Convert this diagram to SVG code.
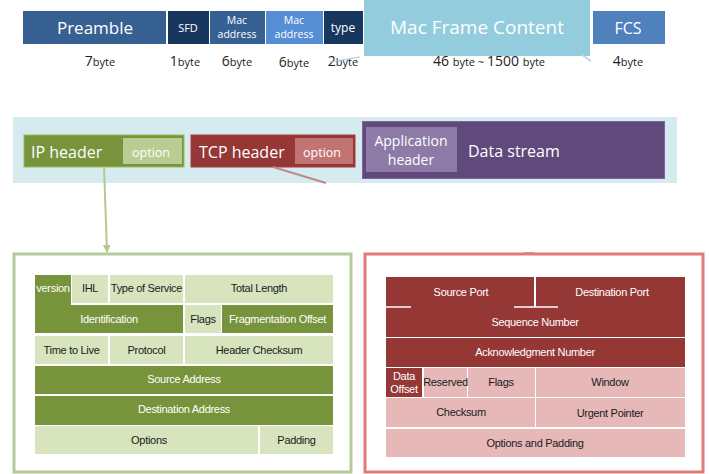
<svg xmlns="http://www.w3.org/2000/svg" width="709" height="474" viewBox="0 0 709 474">
<style>
.ko{font-family:"Open Sans","Noto Sans",sans-serif;fill:#fff}
.by{font-family:"Open Sans","Noto Sans",sans-serif;fill:#222;text-anchor:middle}
.big{font-size:14px}
.sm{font-size:11px}
.t{font-family:"Liberation Sans",Arial,sans-serif;font-size:11px;text-anchor:middle;letter-spacing:-0.3px}
.w{fill:#fff}
.d{fill:#1a1a1a}
.gD{fill:#77933C}
.gL{fill:#D7E4BD}
.rD{fill:#953735}
.rL{fill:#E6B9B8}
</style>
<defs>
<marker id="ah" markerWidth="8" markerHeight="8" refX="7" refY="4" orient="auto" markerUnits="userSpaceOnUse">
<path d="M0,0 L8,4 L0,8 Z" fill="#B3C98E"/>
</marker>
</defs>

<!-- top frame bar -->
<g id="preamble"><rect x="23" y="11" width="143" height="33" fill="#376092"/><text class="ko" x="95" y="34" font-size="17" text-anchor="middle">Preamble</text></g>
<g id="sfd"><rect x="168" y="11" width="41" height="33" fill="#17375E"/><text class="ko" x="188" y="32" font-size="11" text-anchor="middle">SFD</text></g>
<g id="mac1"><rect x="210" y="11" width="55" height="33" fill="#376092"/><text class="ko" x="237" y="24" font-size="10.5" text-anchor="middle">Mac</text><text class="ko" x="237" y="38" font-size="10.5" text-anchor="middle">address</text></g>
<g id="mac2"><rect x="266" y="11" width="57" height="33" fill="#558ED5"/><text class="ko" x="294" y="24" font-size="10.5" text-anchor="middle">Mac</text><text class="ko" x="294" y="38" font-size="10.5" text-anchor="middle">address</text></g>
<g id="type"><rect x="324" y="11" width="39" height="33" fill="#17375E"/><text class="ko" x="343" y="32" font-size="12" text-anchor="middle">type</text></g>
<g id="content"><rect x="364" y="0" width="226" height="56" fill="#93CDDD"/><text class="ko" x="477" y="34" font-size="19" text-anchor="middle">Mac Frame Content</text></g>
<g id="fcs"><rect x="593" y="11" width="72" height="33" fill="#4F81BD"/><text class="ko" x="628" y="34" font-size="16" text-anchor="middle">FCS</text></g>

<g id="bytes">
<text class="by" x="100" y="66"><tspan class="big">7</tspan><tspan class="sm">byte</tspan></text>
<text class="by" x="185" y="66"><tspan class="big">1</tspan><tspan class="sm">byte</tspan></text>
<text class="by" x="237" y="66"><tspan class="big">6</tspan><tspan class="sm">byte</tspan></text>
<text class="by" x="294" y="67"><tspan class="big">6</tspan><tspan class="sm">byte</tspan></text>
<text class="by" x="343" y="66"><tspan class="big">2</tspan><tspan class="sm">byte</tspan></text>
<text class="by" x="489" y="66"><tspan class="big">46 </tspan><tspan class="sm">byte ~ </tspan><tspan class="big">1500 </tspan><tspan class="sm">byte</tspan></text>
<text class="by" x="628" y="66"><tspan class="big">4</tspan><tspan class="sm">byte</tspan></text>
</g>

<!-- middle band -->
<rect x="13" y="117" width="664" height="66" fill="#D5EBF0"/>
<g id="ipheader"><rect x="24" y="135" width="160" height="32" fill="#77933C" stroke="#9BBB59" stroke-width="1"/><rect x="123" y="138" width="59" height="26" fill="#B9CC92"/><text class="ko" x="31" y="158" font-size="16">IP header</text><text class="ko" x="151" y="157" font-size="12.5" text-anchor="middle">option</text></g>
<g id="tcpheader"><rect x="191" y="135" width="164" height="32" fill="#953735" stroke="#A83C3A" stroke-width="1"/><rect x="295" y="138" width="58" height="26" fill="#C27472"/><text class="ko" x="199" y="158" font-size="16">TCP header</text><text class="ko" x="322" y="157" font-size="12.5" text-anchor="middle">option</text></g>
<g id="appdata"><rect x="362.5" y="121.5" width="302" height="57" fill="#604A7B" stroke="#8064A2" stroke-width="1"/><rect x="366" y="127" width="91" height="45" fill="#8D7AA7"/><text class="ko" x="411" y="146" font-size="14" text-anchor="middle">Application</text><text class="ko" x="411" y="165" font-size="14" text-anchor="middle">header</text><text class="ko" x="468" y="157" font-size="16">Data stream</text></g>

<!-- connectors -->
<g id="connectors" fill="none">
<line x1="330" y1="62" x2="360" y2="57" stroke="#A9CBE6" stroke-width="1.2"/>
<line x1="582" y1="55" x2="591" y2="61" stroke="#BFD3EA" stroke-width="2"/>
<line x1="104" y1="167" x2="107" y2="252" stroke="#B3C98E" stroke-width="2" marker-end="url(#ah)"/>
<line x1="273" y1="167" x2="326" y2="183" stroke="#C0898A" stroke-width="2"/>
<line x1="524" y1="253.5" x2="534" y2="253.5" stroke="#B85A5A" stroke-width="2"/>
</g>

<!-- IP header table -->
<g id="ipbox">
<rect x="14" y="254" width="337" height="218" fill="#fff" stroke="#B6C99A" stroke-width="3"/>
<rect class="gD" x="35" y="275" width="36" height="30"/><text class="t w" x="53" y="292" font-size="10">version</text>
<rect class="gL" x="72" y="275" width="36" height="28"/><text class="t d" x="90" y="292">IHL</text>
<rect class="gL" x="110" y="275" width="73" height="28"/><text class="t d" x="146.5" y="292" font-size="10">Type of Service</text>
<rect class="gL" x="185" y="275" width="148" height="28"/><text class="t d" x="259" y="292">Total Length</text>
<rect class="gD" x="35" y="305" width="148" height="28"/><text class="t w" x="109" y="323">Identification</text>
<rect class="gL" x="185" y="305" width="36" height="28"/><text class="t d" x="203" y="323">Flags</text>
<rect class="gD" x="222" y="305" width="111" height="28"/><text class="t w" x="277.5" y="323">Fragmentation Offset</text>
<rect class="gL" x="35" y="336" width="73" height="28"/><text class="t d" x="71.5" y="354">Time to Live</text>
<rect class="gL" x="110" y="336" width="73" height="28"/><text class="t d" x="146.5" y="354">Protocol</text>
<rect class="gL" x="185" y="336" width="148" height="28"/><text class="t d" x="259" y="354">Header Checksum</text>
<rect class="gD" x="35" y="366" width="298" height="28"/><text class="t w" x="184" y="383">Source Address</text>
<rect class="gD" x="35" y="396" width="298" height="29"/><text class="t w" x="184" y="413">Destination Address</text>
<rect class="gL" x="35" y="426" width="223" height="28"/><text class="t d" x="149" y="444">Options</text>
<rect class="gL" x="260" y="426" width="73" height="28"/><text class="t d" x="296.5" y="444">Padding</text>
</g>

<!-- TCP header table -->
<g id="tcpbox">
<rect x="365" y="254" width="338" height="218" fill="#fff" stroke="#E07B7B" stroke-width="3"/>
<rect class="rD" x="386" y="277" width="148" height="31"/><text class="t w" x="461" y="296">Source Port</text>
<rect class="rD" x="536" y="277" width="149" height="31"/><text class="t w" x="612" y="296">Destination Port</text>
<rect class="rD" x="386" y="307" width="299" height="30"/><text class="t w" x="535" y="326">Sequence Number</text>
<line x1="386" y1="307" x2="411" y2="307" stroke="#fff" stroke-width="1.5"/>
<line x1="514" y1="307" x2="558" y2="307" stroke="#fff" stroke-width="1.5"/>
<rect class="rD" x="386" y="338" width="299" height="29"/><text class="t w" x="535" y="356">Acknowledgment Number</text>
<rect class="rD" x="386" y="368" width="36" height="29"/><text class="t w" x="404" y="380" font-size="10">Data</text><text class="t w" x="404" y="393" font-size="10">Offset</text>
<rect class="rL" x="424" y="368" width="43" height="29"/><text class="t d" x="445.5" y="386" font-size="10.5">Reserved</text>
<rect class="rL" x="468" y="368" width="67" height="29"/><text class="t d" x="501" y="386" font-size="10">Flags</text>
<rect class="rL" x="536" y="368" width="149" height="29"/><text class="t d" x="610" y="386">Window</text>
<rect class="rL" x="386" y="398" width="149" height="29"/><text class="t d" x="461" y="416">Checksum</text>
<rect class="rL" x="536" y="398" width="149" height="29"/><text class="t d" x="610" y="417">Urgent Pointer</text>
<rect class="rL" x="386" y="429" width="299" height="28"/><text class="t d" x="535" y="447">Options and Padding</text>
</g>
</svg>
